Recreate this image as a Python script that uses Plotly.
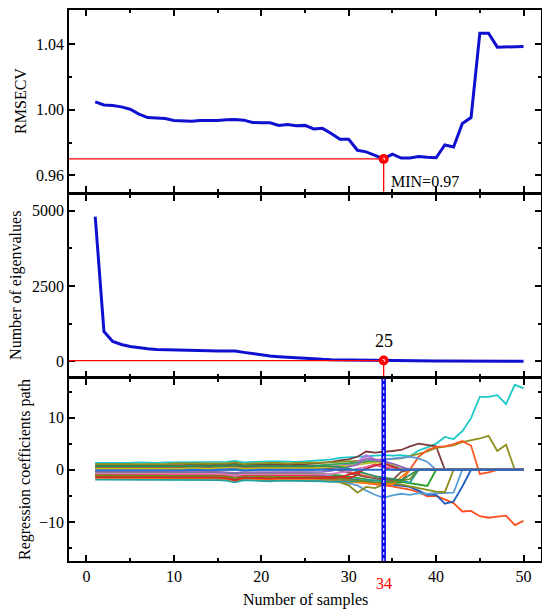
import numpy as np
import plotly.graph_objects as go
from plotly.subplots import make_subplots

samples = list(range(1, 51))

rmsecv = [1.0049, 1.0030, 1.0026, 1.0018, 1.0004, 0.9974, 0.9953, 0.9950, 0.9947, 0.9935,
          0.9931, 0.9931, 0.9935, 0.9935, 0.9935, 0.9940, 0.9941, 0.9937, 0.9923, 0.9921,
          0.9921, 0.9905, 0.9911, 0.9903, 0.9905, 0.9883, 0.9887, 0.9856, 0.9820, 0.9820,
          0.9753, 0.9743, 0.9720, 0.9700, 0.9729, 0.9705, 0.9706, 0.9715, 0.9710, 0.9707,
          0.9785, 0.9773, 0.9917, 0.9953, 1.0468, 1.0468, 1.0383, 1.0383, 1.0387, 1.0387]

eigenvalues = [4802, 989, 659, 560, 495, 450, 418, 396, 385, 375,
               368, 362, 356, 350, 346, 342, 340, 297, 253, 209,
               176, 154, 132, 110, 88, 77, 66, 55, 50, 44,
               40, 33, 30, 25, 18, 16, 15, 14, 13, 12,
               11, 10, 9, 8, 8, 7, 7, 6, 6, 5]

# regression coefficient paths (one list per variable)
coef_paths = {
    '#1cc7c7': [1.3, 1.3, 1.2, 1.2, 1.3, 1.4, 1.3, 1.3, 1.4, 1.4,
                1.4, 1.5, 1.4, 1.4, 1.5, 1.5, 1.7, 1.4, 1.5, 1.6,
                1.6, 1.6, 1.5, 1.5, 1.6, 1.7, 1.8, 2.0, 2.3, 2.4,
                2.5, 2.6, 2.8, 2.8, 2.7, 2.8, 2.6, 3.7, 4.3, 5.0,
                6.3, 5.9, 7.4, 9.9, 14.0, 14.0, 14.3, 12.6, 16.3, 15.6],
    '#7e3d3d': [0.9, 0.9, 0.8, 0.8, 0.9, 0.9, 0.8, 0.9, 0.9, 0.9,
                0.9, 1.0, 0.9, 0.9, 1.0, 1.0, 1.2, 0.9, 1.0, 1.0,
                1.1, 1.1, 1.0, 1.0, 1.1, 1.2, 1.3, 1.5, 1.8, 2.0,
                2.5, 3.5, 3.3, 3.4, 3.6, 3.8, 4.5, 5.0, 4.8, 4.5,
                0, 0, 0, 0, 0, 0, 0, 0, 0, 0],
    '#8f8f1f': [1.1, 1.1, 1.0, 1.0, 1.1, 1.1, 1.0, 1.1, 1.1, 1.2,
                1.2, 1.2, 1.1, 1.2, 1.2, 1.2, 1.4, 1.1, 1.2, 1.3,
                1.3, 1.3, 1.2, 1.3, 1.3, 1.3, 1.4, 1.4, 1.5, 1.6,
                1.7, 1.8, 1.9, 2.0, 2.0, 2.2, 2.6, 3.0, 3.5, 4.2,
                4.5, 4.7, 5.3, 5.6, 6.0, 6.5, 3.6, 4.8, 0, 0],
    '#ff5722': [0.3, 0.3, 0.2, 0.2, 0.3, 0.3, 0.2, 0.3, 0.3, 0.3,
                0.3, 0.4, 0.3, 0.3, 0.4, 0.4, 0.6, 0.3, 0.4, 0.4,
                0.4, 0.4, 0.3, 0.4, 0.4, 0.4, 0.3, 0.2, 0.0, -0.4,
                -0.8, -1.2, -1.6, -2.0, -2.4, -2.2, 0.0, 2.5, 3.8, 4.4,
                4.5, 4.9, 5.5, 4.6, -0.8, -0.5, 0, 0, 0, 0],
    '#5b9bd5': [-0.2, -0.2, -0.3, -0.3, -0.2, -0.2, -0.3, -0.2, -0.2, -0.2,
                -0.2, -0.1, -0.2, -0.2, -0.1, -0.1, 0.0, -0.2, -0.1, -0.1,
                -0.1, -0.1, -0.2, -0.1, -0.1, 0.0, 0.1, 0.3, 0.6, 1.0,
                1.3, 1.6, 1.8, 2.0, 2.2, 2.4, 2.5, 2.2, 1.5, 0,
                0, 0, 0, 0, 0, 0, 0, 0, 0, 0],
    '#ff4f1f': [-1.0, -1.0, -1.1, -1.0, -1.0, -1.1, -1.1, -1.0, -1.0, -1.1,
                -1.1, -1.2, -1.2, -1.1, -1.2, -1.3, -1.8, -1.2, -1.3, -1.3,
                -1.4, -1.3, -1.3, -1.4, -1.4, -1.5, -1.6, -1.8, -2.0, -2.2,
                -2.3, -2.5, -2.8, -3.0, -3.2, -3.5, -3.8, -4.3, -5.1, -5.0,
                -5.7, -6.4, -8.0, -7.9, -8.9, -9.2, -9.0, -8.8, -10.6, -9.8],
    '#1f5fbf': [-0.6, -0.6, -0.7, -0.7, -0.6, -0.6, -0.7, -0.6, -0.6, -0.7,
                -0.7, -0.7, -0.7, -0.7, -0.7, -0.8, -1.1, -0.8, -0.8, -0.9,
                -1.0, -0.9, -0.9, -0.9, -1.0, -1.0, -1.1, -1.2, -1.4, -1.7,
                -2.0, -2.2, -2.4, -2.6, -2.8, -3.0, -3.3, -4.0, -4.8, -4.8,
                -6.5, -6.1, -3.2, 0, 0, 0, 0, 0, 0, 0],
    '#5a9fd4': [-1.5, -1.5, -1.6, -1.6, -1.5, -1.5, -1.6, -1.6, -1.5, -1.6,
                -1.6, -1.6, -1.6, -1.6, -1.6, -1.7, -2.1, -1.7, -1.7, -1.8,
                -1.9, -1.8, -1.8, -1.8, -1.8, -1.9, -2.0, -2.1, -2.3, -2.6,
                -3.0, -4.0, -4.8, -5.4, -4.9, -4.6, -4.8, -4.5, -4.6, -4.5,
                -4.5, -4.4, 0, 0, 0, 0, 0, 0, 0, 0],
    '#8c8c1c': [-1.3, -1.3, -1.4, -1.4, -1.3, -1.3, -1.4, -1.3, -1.3, -1.4,
                -1.4, -1.4, -1.4, -1.4, -1.4, -1.5, -1.8, -1.5, -1.5, -1.6,
                -1.6, -1.6, -1.5, -1.6, -1.6, -1.7, -1.8, -2.0, -2.4, -3.0,
                -4.4, -3.3, -3.5, -2.8, -2.6, -2.8, -3.2, -3.5, -3.8, -4.2,
                -4.3, 0, 0, 0, 0, 0, 0, 0, 0, 0],
    '#2ca02c': [-0.4, -0.4, -0.5, -0.5, -0.4, -0.4, -0.5, -0.4, -0.4, -0.5,
                -0.5, -0.5, -0.5, -0.5, -0.5, -0.6, -0.8, -0.6, -0.6, -0.6,
                -0.7, -0.6, -0.6, -0.7, -0.7, -0.7, -0.8, -0.9, -1.1, -1.3,
                -1.6, -1.9, -2.1, -2.2, -2.4, -2.3, -2.6, -2.9, -3.1, 0,
                0, 0, 0, 0, 0, 0, 0, 0, 0, 0],
    '#b370e0': [0.0, 0.0, -0.1, -0.1, 0.0, 0.0, -0.1, 0.0, 0.0, 0.0,
                0.0, 0.1, 0.0, 0.0, 0.1, 0.1, 0.2, 0.0, 0.1, 0.1,
                0.1, 0.1, 0.0, 0.1, 0.1, 0.2, 0.3, 0.5, 0.8, 1.2,
                1.5, 2.8, 2.0, 1.8, 1.0, 0, 0, 0, 0, 0,
                0, 0, 0, 0, 0, 0, 0, 0, 0, 0],
    '#e8231f': [-0.9, -0.9, -1.0, -0.9, -0.9, -1.0, -1.0, -0.9, -0.9, -1.0,
                -1.0, -1.0, -1.0, -1.0, -1.0, -1.1, -1.5, -1.0, -1.1, -1.1,
                -1.2, -1.1, -1.1, -1.2, -1.2, -1.2, -1.3, -1.4, -1.5, -1.6,
                -1.0, 0.5, 1.0, 0.5, 0, 0, 0, 0, 0, 0,
                0, 0, 0, 0, 0, 0, 0, 0, 0, 0],
    '#3aa655': [0.6, 0.6, 0.5, 0.5, 0.6, 0.6, 0.5, 0.6, 0.6, 0.6,
                0.6, 0.7, 0.6, 0.6, 0.7, 0.7, 0.9, 0.6, 0.7, 0.7,
                0.7, 0.7, 0.6, 0.7, 0.7, 0.8, 0.9, 1.0, 1.2, 1.3,
                1.4, 1.5, 1.6, 1.5, 0.8, 0, 0, 0, 0, 0,
                0, 0, 0, 0, 0, 0, 0, 0, 0, 0],
    '#ff7f0e': [-1.7, -1.7, -1.8, -1.8, -1.7, -1.7, -1.8, -1.7, -1.7, -1.8,
                -1.8, -1.8, -1.8, -1.8, -1.8, -1.9, -2.2, -1.9, -1.9, -2.0,
                -2.0, -2.0, -1.9, -2.0, -2.0, -2.0, -2.1, -2.2, -2.3, -2.4,
                -2.5, -2.6, -2.6, -2.6, -2.8, -1.4, 0, 0, 0, 0,
                0, 0, 0, 0, 0, 0, 0, 0, 0, 0],
    '#20a0a0': [-1.9, -1.9, -2.0, -2.0, -1.9, -1.9, -2.0, -2.0, -1.9, -2.0,
                -2.0, -2.0, -2.0, -2.0, -2.0, -2.1, -2.4, -2.0, -2.1, -2.1,
                -2.2, -2.1, -2.1, -2.1, -2.1, -2.2, -2.2, -2.3, -2.3, -2.3,
                -2.2, -2.0, -2.0, -2.0, -2.2, -2.0, -2.5, 0, 0, 0,
                0, 0, 0, 0, 0, 0, 0, 0, 0, 0],
    '#8c564b': [0.4, 0.4, 0.3, 0.3, 0.4, 0.4, 0.3, 0.4, 0.4, 0.4,
                0.4, 0.5, 0.4, 0.4, 0.5, 0.5, 0.7, 0.4, 0.5, 0.5,
                0.5, 0.5, 0.4, 0.5, 0.5, 0.5, 0.4, 0.2, -0.2, -0.6,
                -1.0, -1.4, -1.6, -1.8, -2.0, -0.4, 0, 0, 0, 0,
                0, 0, 0, 0, 0, 0, 0, 0, 0, 0],
    '#e377c2': [-0.7, -0.7, -0.8, -0.8, -0.7, -0.7, -0.8, -0.7, -0.7, -0.8,
                -0.8, -0.8, -0.8, -0.8, -0.8, -0.9, -1.1, -0.9, -0.9, -0.9,
                -1.0, -0.9, -0.9, -1.0, -1.0, -1.0, -0.9, -0.8, -0.6, -0.3,
                0.2, 0.6, 0.9, 0.7, 0.3, 0, 0, 0, 0, 0,
                0, 0, 0, 0, 0, 0, 0, 0, 0, 0],
    '#bcbd22': [0.2, 0.2, 0.1, 0.1, 0.2, 0.2, 0.1, 0.2, 0.2, 0.2,
                0.2, 0.3, 0.2, 0.2, 0.3, 0.3, 0.4, 0.2, 0.3, 0.3,
                0.3, 0.3, 0.2, 0.3, 0.3, 0.3, 0.4, 0.5, 0.6, 0.8,
                1.0, 1.2, 1.4, 1.3, 1.1, 0.5, 0, 0, 0, 0,
                0, 0, 0, 0, 0, 0, 0, 0, 0, 0],
    '#6b8e23': [-1.1, -1.1, -1.2, -1.2, -1.1, -1.1, -1.2, -1.1, -1.1, -1.2,
                -1.2, -1.2, -1.2, -1.2, -1.2, -1.3, -1.6, -1.3, -1.3, -1.3,
                -1.4, -1.3, -1.3, -1.4, -1.4, -1.4, -1.5, -1.6, -1.7, -1.9,
                -2.1, -2.3, -2.4, -2.5, -2.3, -2.0, -1.8, 0, 0, 0,
                0, 0, 0, 0, 0, 0, 0, 0, 0, 0],
    '#9467bd': [-0.3, -0.3, -0.4, -0.4, -0.3, -0.3, -0.4, -0.3, -0.3, -0.4,
                -0.4, -0.4, -0.4, -0.4, -0.4, -0.5, -0.6, -0.5, -0.5, -0.5,
                -0.5, -0.5, -0.5, -0.5, -0.5, -0.5, -0.4, -0.2, 0.2, 0.6,
                1.0, 2.2, 1.9, 1.6, 1.2, 0.6, 0, 0, 0, 0,
                0, 0, 0, 0, 0, 0, 0, 0, 0, 0],
    '#2e8b57': [0.7, 0.7, 0.6, 0.6, 0.7, 0.7, 0.6, 0.7, 0.7, 0.7,
                0.7, 0.8, 0.7, 0.7, 0.8, 0.8, 1.0, 0.7, 0.8, 0.8,
                0.8, 0.8, 0.7, 0.8, 0.8, 0.8, 0.8, 0.7, 0.5, 0.2,
                -0.3, -0.8, -1.2, -1.5, -1.8, -2.0, -1.0, 0, 0, 0,
                0, 0, 0, 0, 0, 0, 0, 0, 0, 0],
    '#d62728': [-1.4, -1.4, -1.5, -1.4, -1.4, -1.5, -1.5, -1.4, -1.4, -1.5,
                -1.5, -1.5, -1.5, -1.5, -1.5, -1.6, -2.0, -1.5, -1.6, -1.6,
                -1.7, -1.6, -1.6, -1.7, -1.7, -1.7, -1.7, -1.6, -1.4, -1.0,
                -0.5, 0.2, 0.8, 1.2, 0.6, 0, 0, 0, 0, 0,
                0, 0, 0, 0, 0, 0, 0, 0, 0, 0],
    '#1f6fd0': [-0.1, -0.1, -0.2, -0.2, -0.1, -0.1, -0.2, -0.1, -0.1, -0.1,
                -0.1, 0.0, -0.1, -0.1, 0.0, 0.0, 0.1, -0.1, 0.0, 0.0,
                0.0, 0.0, -0.1, 0.0, 0.0, 0.0, 0.0, 0.0, 0.0, 0.0,
                0.0, 0.0, 0.0, 0.0, 0, 0, 0, 0, 0, 0,
                0, 0, 0, 0, 0, 0, 0, 0, 0, 0],
}

best = int(np.argmin(rmsecv))
x_best = samples[best]
y_best = rmsecv[best]
eig_best = eigenvalues[best]

FONT = 'Liberation Serif, Times New Roman, serif'
XR = [-2, 52]

fig = make_subplots(rows=3, cols=1, shared_xaxes=True)

fig.add_trace(go.Scatter(x=samples, y=rmsecv, mode='lines',
                         line=dict(color='#1010d0', width=3)), row=1, col=1)
fig.add_trace(go.Scatter(x=samples, y=eigenvalues, mode='lines',
                         line=dict(color='#1010d0', width=3)), row=2, col=1)
for col, vals in coef_paths.items():
    fig.add_trace(go.Scatter(x=samples, y=vals, mode='lines',
                             line=dict(color=col, width=1.8)), row=3, col=1)

red = '#ff0000'
# top panel guide lines
fig.add_shape(type='line', xref='x', yref='y', x0=XR[0], x1=x_best, y0=y_best, y1=y_best,
              line=dict(color=red, width=1.3))
fig.add_shape(type='line', xref='x', yref='y', x0=x_best, x1=x_best, y0=y_best, y1=0.95,
              line=dict(color=red, width=1.3))
# middle panel guide lines
fig.add_shape(type='line', xref='x2', yref='y2', x0=XR[0], x1=x_best, y0=eig_best, y1=eig_best,
              line=dict(color=red, width=1.3))
fig.add_shape(type='line', xref='x2', yref='y2', x0=x_best, x1=x_best, y0=eig_best, y1=-500,
              line=dict(color=red, width=1.3))
# bottom panel selected line
fig.add_shape(type='line', xref='x3', yref='y3 domain', x0=x_best, x1=x_best, y0=0, y1=1,
              line=dict(color='#0a0ae6', width=4.5))
fig.add_shape(type='line', xref='x3', yref='y3 domain', x0=x_best, x1=x_best, y0=0, y1=1,
              line=dict(color='#c8c8ff', width=1.2, dash='dot'))

for r, yv in [(1, y_best), (2, eig_best)]:
    fig.add_trace(go.Scatter(x=[x_best], y=[yv], mode='markers',
                             marker=dict(color=red, size=10)), row=r, col=1)
    fig.add_trace(go.Scatter(x=[x_best], y=[yv], mode='markers',
                             marker=dict(color='white', size=3)), row=r, col=1)

ax_common = dict(showline=True, linecolor='black', linewidth=1.5, mirror='ticks',
                 ticks='inside', ticklen=6, tickwidth=1.5, tickcolor='black',
                 showgrid=False, zeroline=False,
                 tickfont=dict(family=FONT, size=16, color='black'))

for i in (1, 2, 3):
    fig.update_xaxes(ax_common, row=i, col=1)
    fig.update_xaxes(range=XR, tickvals=[0, 10, 20, 30, 40, 50],
                     minor=dict(ticks='inside', ticklen=3, tickwidth=1.5, tickcolor='black',
                                tickvals=[5, 15, 25, 35, 45]),
                     showticklabels=(i == 3), row=i, col=1)
    fig.update_yaxes(ax_common, row=i, col=1)

fig.update_yaxes(range=[0.95, 1.061], tickvals=[0.96, 1.00, 1.04], tickformat='.2f',
                 minor=dict(ticks='inside', ticklen=3, tickwidth=1.5, tickcolor='black',
                            tickvals=[0.98, 1.02]),
                 domain=[0.6703, 1.0], row=1, col=1)
fig.update_yaxes(range=[-500, 5505], tickvals=[0, 2500, 5000],
                 minor=dict(ticks='inside', ticklen=3, tickwidth=1.5, tickcolor='black',
                            tickvals=[1250, 3750]),
                 domain=[0.335, 0.6636], row=2, col=1)
fig.update_yaxes(range=[-17.5, 17.4], tickvals=[-10, 0, 10],
                 minor=dict(ticks='inside', ticklen=3, tickwidth=1.5, tickcolor='black',
                            tickvals=[-15, -5, 5, 15]),
                 domain=[0.0, 0.3302], row=3, col=1)

txt = dict(family=FONT, size=16, color='black')
fig.add_annotation(xref='x', yref='y', x=x_best, y=0.9565, xanchor='left', yanchor='middle',
                   xshift=5, text=f'MIN={y_best:.2f}', showarrow=False, font=txt)
fig.add_annotation(xref='x2', yref='y2', x=x_best, y=eig_best, xanchor='center', yanchor='bottom',
                   yshift=8, text=str(eig_best), showarrow=False,
                   font=dict(family=FONT, size=18, color='black'))
fig.add_annotation(xref='x3', yref='paper', x=x_best, y=0, xanchor='center', yanchor='top',
                   yshift=-12, text=str(x_best), showarrow=False,
                   font=dict(family=FONT, size=16, color=red))

for title, yc, xs in [('RMSECV', 0.835, -48), ('Number of eigenvalues', 0.4993, -53),
                      ('Regression coefficients path', 0.1651, -44)]:
    fig.add_annotation(xref='paper', yref='paper', x=0, y=yc, xshift=xs, textangle=-90,
                       xanchor='center', yanchor='middle',
                       text=title, showarrow=False, font=txt)
fig.add_annotation(xref='paper', yref='paper', x=0.5, y=0, yshift=-39,
                   xanchor='center', yanchor='middle',
                   text='Number of samples', showarrow=False, font=txt)

# page body adds an 8 px offset, so the figure is 8 px smaller than the window
fig.update_layout(width=542, height=606, showlegend=False,
                  margin=dict(l=61, r=9, t=0, b=53),
                  plot_bgcolor='white', paper_bgcolor='white',
                  font=dict(family=FONT))

fig.write_html('out.html')
